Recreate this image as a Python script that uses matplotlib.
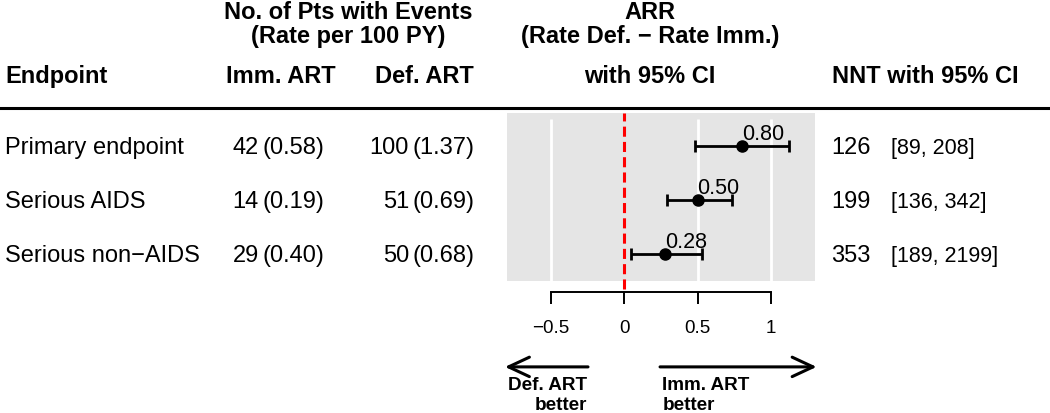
import numpy as np
import matplotlib
matplotlib.use("Agg")
import matplotlib.pyplot as plt
from matplotlib import transforms

plt.rcParams['font.family'] = ['Liberation Sans', 'DejaVu Sans']

# data
endpoints = ["Primary endpoint", "Serious AIDS", "Serious non\u2212AIDS"]
imm_n = [42, 14, 29]
imm_rate = [0.58, 0.19, 0.40]
def_n = [100, 51, 50]
def_rate = [1.37, 0.69, 0.68]
arr = np.array([0.80, 0.50, 0.28])
arr_lo = np.array([0.48, 0.29, 0.045])
arr_hi = np.array([1.12, 0.735, 0.53])
nnt = [126, 199, 353]
nnt_lo = [89, 136, 189]
nnt_hi = [208, 342, 2199]

xticks = [-0.5, 0, 0.5, 1]
xticklabels = ["\u22120.5", "0", "0.5", "1"]

W, H = 1050, 413
fig = plt.figure(figsize=(W / 100, H / 100), dpi=100)

# forest panel (pixel box of the grey area)
pl, pr, pt, pb = 507, 815, 113, 281
ax = fig.add_axes([pl / W, 1 - pb / H, (pr - pl) / W, (pb - pt) / H])
ax.set_facecolor('#E5E5E5')
ax.set_xlim(-0.796, 1.299)
ax.set_ylim(0.5, 3.61)
rows = np.arange(len(endpoints), 0, -1)

ax.vlines([-0.5, 0.5, 1], 0.5, 3.5, colors='white', lw=2.0, zorder=1)
ax.vlines(0, 0.35, 3.61, colors='red', lw=2.2, linestyles=(0, (3.3, 1.7)),
          clip_on=False, zorder=2)

ax.errorbar(arr, rows, xerr=[arr - arr_lo, arr_hi - arr], fmt='o', color='black',
            ms=8, elinewidth=2.0, capsize=4.5, capthick=2.0, zorder=3)
for x, y in zip(arr, rows):
    ax.annotate(f"{x:.2f}", (x, y), xytext=(0, 4.3), textcoords='offset points',
                ha='left', va='baseline', fontsize=15.5)

for s in ['top', 'right', 'left']:
    ax.spines[s].set_visible(False)
ax.spines['bottom'].set_position(('outward', 7.9))
ax.spines['bottom'].set_bounds(-0.5, 1)
ax.spines['bottom'].set_linewidth(1.4)
ax.set_xticks(xticks)
ax.set_xticklabels(xticklabels, fontsize=13.5)
ax.tick_params(axis='x', length=8.6, width=1.4, pad=11.5)
ax.set_yticks([])

# arrows under the axis
ya = -1.09
head = '->, head_length=1.5, head_width=0.7'
ax.annotate('', xy=(-0.81, ya), xytext=(-0.245, ya), annotation_clip=False,
            arrowprops=dict(arrowstyle=head, lw=2.2, color='black', shrinkA=0, shrinkB=0))
ax.annotate('', xy=(1.31, ya), xytext=(0.245, ya), annotation_clip=False,
            arrowprops=dict(arrowstyle=head, lw=2.2, color='black', shrinkA=0, shrinkB=0))
ax.text(-0.252, -1.27, "Def. ART\nbetter", ha='right', va='top', fontsize=13.6,
        fontweight='bold', linespacing=1.25, multialignment='right', clip_on=False)
ax.text(0.26, -1.27, "Imm. ART\nbetter", ha='left', va='top', fontsize=13.6,
        fontweight='bold', linespacing=1.25, multialignment='left', clip_on=False)


def ftext(x, y, s, **kw):
    fig.text(x / W, 1 - y / H, s, va='baseline', **kw)


# header
hb = dict(fontsize=17, fontweight='bold')
ftext(348, 19, "No. of Pts with Events", ha='center', **hb)
ftext(348, 43, "(Rate per 100 PY)", ha='center', **hb)
ftext(5, 83, "Endpoint", ha='left', **hb)
ftext(281, 83, "Imm. ART", ha='center', **hb)
ftext(424, 83, "Def. ART", ha='center', **hb)
ftext(650, 19, "ARR", ha='center', **hb)
ftext(650, 43, "(Rate Def. \u2212 Rate Imm.)", ha='center', **hb)
ftext(650, 83, "with 95% CI", ha='center', **hb)
ftext(832, 83, "NNT with 95% CI", ha='left', **hb)

fig.add_artist(plt.Line2D([0, 1], [1 - 108 / H, 1 - 108 / H], color='black', lw=2.2))

# table rows: x in figure pixels, y in data units of the forest panel
row_tr = transforms.offset_copy(
    transforms.blended_transform_factory(fig.transFigure, ax.transData),
    fig=fig, y=-6.0, units='points')


def rtext(x, y, s, **kw):
    fig.text(x / W, y, s, transform=row_tr, va='baseline', fontsize=17, **kw)


for i, y in enumerate(rows):
    rtext(5, y, endpoints[i], ha='left')
    rtext(259, y, f"{imm_n[i]}", ha='right')
    rtext(263, y, f"({imm_rate[i]:.2f})", ha='left')
    rtext(409, y, f"{def_n[i]}", ha='right')
    rtext(413, y, f"({def_rate[i]:.2f})", ha='left')
    rtext(831, y, f"{nnt[i]}", ha='left')
    fig.text(891 / W, y, f"[{nnt_lo[i]}, {nnt_hi[i]}]", transform=row_tr,
             va='baseline', fontsize=15.5, ha='left')

fig.savefig("out.png", dpi=100)
